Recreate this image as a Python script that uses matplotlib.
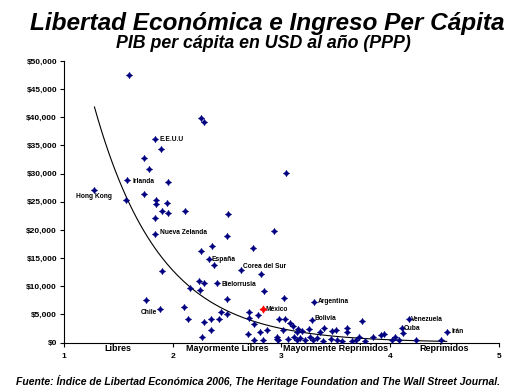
import numpy as np
import matplotlib
matplotlib.use('Agg')
import matplotlib.pyplot as plt
from matplotlib import font_manager

# indice de libertad economica (1 = libre, 5 = reprimido) y PIB per capita (USD, PPP)
libertad = [1.60, 1.84, 1.89, 1.74, 1.785, 1.58, 1.96, 1.74, 1.57, 1.85,
            1.85, 1.95, 2.26, 2.29, 3.045, 1.28, 1.90, 1.96, 2.11, 1.84,
            1.84, 2.26, 2.36, 2.33, 2.38, 1.90, 1.75, 1.88, 2.10, 2.14,
            2.16, 2.24, 2.25, 2.265, 2.63, 2.81, 2.29, 2.41, 2.29, 2.355,
            2.355, 2.43, 2.44, 2.495, 2.50, 2.70, 2.70, 2.69, 2.75, 2.75,
            2.78, 2.80, 2.83, 2.84, 2.83, 2.87, 2.96, 2.97, 2.98, 3.02,
            3.03, 3.01, 3.08, 3.11, 3.14, 3.115, 3.14, 2.51, 2.50, 2.935,
            2.74, 3.30, 3.28, 3.74, 2.96, 3.06, 3.17, 3.15, 3.19, 3.22,
            3.25, 3.26, 3.29, 3.325, 3.355, 3.39, 3.385, 3.465, 3.46, 3.505,
            3.51, 3.555, 3.60, 3.60, 3.65, 3.69, 3.71, 3.77, 3.845, 3.92,
            3.94, 4.045, 4.015, 4.085, 4.17, 4.11, 4.115, 4.52, 4.235, 4.47]
pib = [47450, 36090, 34370, 32710, 30810, 28810, 28450, 26430, 25250, 25360,
       24650, 24830, 39870, 39210, 30050, 27140, 23350, 23050, 23300, 22110,
       19320, 16200, 17080, 14830, 13680, 12700, 7600, 5950, 6250, 4170,
       9630, 10980, 9320, 980, 12820, 12170, 10510, 10510, 3640, 4230,
       2220, 4260, 5470, 5030, 7640, 5360, 4440, 1510, 3230, 390,
       4880, 1920, 5950, 9090, 500, 2220, 980, 500, 4120, 7990,
       4260, 2220, 3550, 2980, 1920, 920, 440, 22770, 18970, 19750,
       16780, 7280, 3940, 3850, 570, 570, 750, 2400, 2040, 440,
       2400, 1030, 440, 750, 1920, 2630, 320, 2040, 570, 2220,
       440, 270, 2520, 1810, 270, 440, 920, 270, 920, 1330,
       1460, 1030, 440, 440, 4120, 2580, 1630, 1810, 440, 390]

# paises con etiqueta: (nombre, indice del punto, desplazamiento px, alineacion)
etiquetas = [('E.E.U.U', 1, (4, 0), 'left'),
             ('Irlanda', 5, (5, -1), 'left'),
             ('Hong Kong', 15, (17, -7), 'right'),
             ('Nueva Zelanda', 20, (5, 1), 'left'),
             ('España', 23, (3, 0), 'left'),
             ('Corea del Sur', 34, (2, 4), 'left'),
             ('Bielorrusia', 37, (4, -1), 'left'),
             ('Chile', 27, (-3, -3), 'right'),
             ('México', 52, (3, 0), 'left'),
             ('Argentina', 71, (4, 0), 'left'),
             ('Bolivia', 72, (3, 2), 'left'),
             ('Venezuela', 104, (2, 0), 'left'),
             ('Cuba', 105, (2, -1), 'left'),
             ('Irán', 107, (5, 1), 'left')]
mexico = 52

# puntos leidos sobre la linea de tendencia del grafico
tend_x = [1.28, 1.56, 2.16, 3.0, 4.52]
tend_y = [43070, 25300, 9620, 2630, 200]

categorias = ['Libres', 'Mayormente Libres', 'Mayormente Reprimidos', 'Reprimidos']
pos_categorias = [1.5, 2.5, 3.5, 4.5]

fams = [f.name for f in font_manager.fontManager.ttflist]
narrow = 'Liberation Sans Narrow' if 'Liberation Sans Narrow' in fams else 'Liberation Sans'
plt.rcParams['font.family'] = ['Liberation Sans', 'DejaVu Sans']

x = np.array(libertad)
y = np.array(pib)

fig = plt.figure(figsize=(5.29, 3.91), dpi=100)
ax = fig.add_axes([0.121, 0.124, 0.822, 0.720])

otros = np.arange(len(x)) != mexico
ax.scatter(x[otros], y[otros], marker=(4, 1, 0), s=17, color='#000080', linewidths=0.7, zorder=3)
ax.scatter(x[mexico], y[mexico], marker=(4, 1, 0), s=24, color='#FF0000', linewidths=0.7, zorder=4)

# linea de tendencia exponencial
b, a = np.polyfit(tend_x, np.log(tend_y), 1)
xt = np.linspace(tend_x[0], tend_x[-1], 200)
ax.plot(xt, np.exp(a + b * xt), color='black', lw=0.8, zorder=2)

for nombre, i, off, ha in etiquetas:
    ax.annotate(nombre, (x[i], y[i]), xytext=off, textcoords='offset pixels',
                ha=ha, va='center', fontsize=4.8, fontweight='bold')

ax.set_xlim(1, 5)
ax.set_ylim(0, 50000)
ax.set_yticks(np.arange(0, 50001, 5000))
ax.set_yticklabels(['${:,}'.format(v) for v in range(0, 50001, 5000)])
ax.set_xticks([1, 2, 3, 4, 5])
ax.set_xticks(pos_categorias, minor=True)
ax.set_xticklabels(categorias, minor=True)
ax.tick_params(axis='x', which='minor', length=0, pad=1, labelsize=6.5)
ax.tick_params(axis='x', which='major', length=3, pad=4.5, labelsize=6, width=0.8)
ax.tick_params(axis='y', length=3, pad=2, labelsize=6, width=0.8)
for lab in ax.get_xticklabels(which='both') + ax.get_yticklabels():
    lab.set_fontweight('bold')

for s in ['top', 'right']:
    ax.spines[s].set_visible(False)
for s in ['left', 'bottom']:
    ax.spines[s].set_linewidth(0.8)

fig.text(0.505, 0.941, 'Libertad Económica e Ingreso Per Cápita', ha='center', va='center',
         fontsize=17.6, fontweight='bold', style='italic')
fig.text(0.497, 0.888, 'PIB per cápita en USD al año (PPP)', ha='center', va='center',
         fontsize=12.8, fontweight='bold', style='italic')
fig.text(0.488, 0.026, 'Fuente: Índice de Libertad Económica 2006, The Heritage Foundation and The Wall Street Journal.',
         ha='center', va='center', fontsize=7.5, fontweight='bold', style='italic',
         family=[narrow, 'DejaVu Sans'])

fig.savefig('out.png', dpi=100)
